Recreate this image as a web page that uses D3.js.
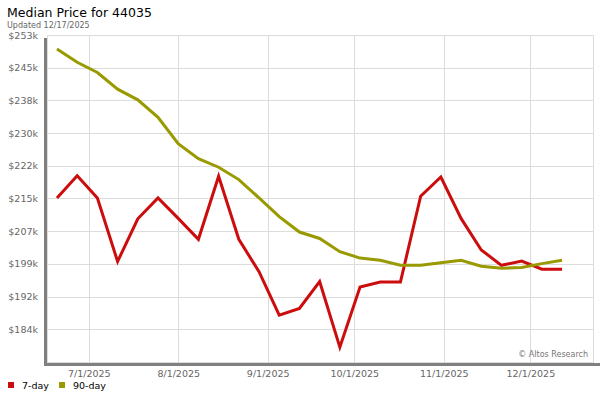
<!DOCTYPE html>
<html>
<head>
<meta charset="utf-8">
<script src="https://cdn.jsdelivr.net/npm/d3@7"></script>
<style>
  body { margin: 0; background: #fff; }
  text { font-family: "DejaVu Sans", Verdana, sans-serif; }
</style>
</head>
<body>
<script>
// weekly dates and values
var dates = ["2025-06-20", "2025-06-27", "2025-07-04", "2025-07-11", "2025-07-18", "2025-07-25",
             "2025-08-01", "2025-08-08", "2025-08-15", "2025-08-22", "2025-08-29", "2025-09-05",
             "2025-09-12", "2025-09-19", "2025-09-26", "2025-10-03", "2025-10-10", "2025-10-17",
             "2025-10-24", "2025-10-31", "2025-11-07", "2025-11-14", "2025-11-21", "2025-11-28",
             "2025-12-05", "2025-12-12"];
var sevenDay = [214800, 220000, 214800, 199900, 209900, 214800, 210000, 205100, 219900, 205100,
                197500, 187300, 188900, 195200, 179800, 193900, 195100, 195100, 215200, 219700,
                210000, 202600, 199000, 200000, 198100, 198100];
var ninetyDay = [249700, 246600, 244200, 240300, 237800, 233700, 227500, 224000, 222000, 219100,
                 214800, 210400, 206800, 205300, 202200, 200700, 200200, 199000, 199000, 199600,
                 200200, 198800, 198300, 198500, 199400, 200200];
var yTicks = [184000, 191667, 199333, 207000, 214667, 222333, 230000, 237667, 245333, 253000];
var xTicks = ["2025-07-01", "2025-08-01", "2025-09-01", "2025-10-01", "2025-11-01", "2025-12-01"];
var seriesNames = ["7-day", "90-day"];
var seriesColors = ["#cc0d0d", "#999900"];

function drawChart() {
  var w = 600, h = 400;
  var left = 47, right = 593, top = 35, bottom = 362;
  var parse = d3.timeParse("%Y-%m-%d");

  var svg = d3.select("body").append("svg")
      .attr("width", w)
      .attr("height", h);

  var xScale = d3.scaleTime()
      .domain([new Date(2025, 5, 16, 13), new Date(2025, 11, 22, 17)])
      .range([left, right]);
  var yScale = d3.scaleLinear()
      .domain([176333, 253000])
      .range([bottom, top]);

  // shadow bars on left and bottom
  svg.append("rect").attr("x", 44).attr("y", 38).attr("width", 3).attr("height", bottom - 38 + 4).attr("fill", "#808080");
  svg.append("rect").attr("x", 44).attr("y", bottom + 1).attr("width", w - 44).attr("height", 3).attr("fill", "#808080");

  // grid
  svg.append("g")
    .selectAll("line.h")
    .data(yTicks)
    .enter().append("line")
      .attr("x1", left).attr("x2", right)
      .attr("y1", d => Math.round(yScale(d)) + 0.5)
      .attr("y2", d => Math.round(yScale(d)) + 0.5)
      .attr("stroke", "#dcdcdc");
  svg.append("g")
    .selectAll("line.v")
    .data(xTicks)
    .enter().append("line")
      .attr("x1", d => Math.round(xScale(parse(d))) + 0.5)
      .attr("x2", d => Math.round(xScale(parse(d))) + 0.5)
      .attr("y1", top).attr("y2", bottom)
      .attr("stroke", "#dcdcdc");
  svg.append("rect")
    .attr("x", left + 0.5).attr("y", top + 0.5)
    .attr("width", right - left).attr("height", bottom - top)
    .attr("fill", "none").attr("stroke", "#dcdcdc");

  // y axis
  var yAxis = d3.axisLeft(yScale)
      .tickValues(yTicks)
      .tickSize(0)
      .tickPadding(0)
      .tickFormat(d => "$" + Math.round(d / 1000) + "k");
  var gy = svg.append("g")
      .attr("transform", "translate(38,0)")
      .call(yAxis);
  gy.select(".domain").remove();
  gy.selectAll("text").attr("fill", "#666").attr("font-size", "9.5px")
    .attr("font-family", "DejaVu Sans, sans-serif");

  // x axis
  var xAxis = d3.axisBottom(xScale)
      .tickValues(xTicks.map(parse))
      .tickSize(0)
      .tickPadding(0)
      .tickFormat(d3.timeFormat("%-m/%-d/%Y"));
  var gx = svg.append("g")
      .attr("transform", "translate(0,370)")
      .call(xAxis);
  gx.select(".domain").remove();
  gx.selectAll("text").attr("fill", "#666").attr("font-size", "9.5px")
    .attr("font-family", "DejaVu Sans, sans-serif");

  // lines
  var line = d3.line()
      .x((d, i) => xScale(parse(dates[i])))
      .y(d => yScale(d));
  [sevenDay, ninetyDay].forEach(function(vals, k) {
    svg.append("path")
      .datum(vals)
      .attr("d", line)
      .attr("fill", "none")
      .attr("stroke", seriesColors[k])
      .attr("stroke-width", 3)
      .attr("stroke-linejoin", "miter");
  });

  // watermark
  svg.append("text")
    .attr("x", 588).attr("y", 357)
    .attr("text-anchor", "end")
    .attr("font-size", "8px")
    .attr("fill", "#777")
    .text("© Altos Research");

  // title
  svg.append("text").attr("x", 7).attr("y", 17)
    .attr("font-size", "12.5px").attr("fill", "#000")
    .text("Median Price for 44035");
  svg.append("text").attr("x", 7).attr("y", 28)
    .attr("font-size", "8px").attr("fill", "#666")
    .text("Updated 12/17/2025");

  // legend
  var lx = [8, 59];
  seriesNames.forEach(function(n, k) {
    svg.append("rect").attr("x", lx[k]).attr("y", 382).attr("width", 6).attr("height", 6)
      .attr("fill", seriesColors[k]);
    svg.append("text").attr("x", lx[k] + 14).attr("y", 389)
      .attr("font-size", "9.5px").attr("fill", "#000")
      .text(n);
  });
}

window.onload = function() {
  drawChart();
};
</script>
</body>
</html>
